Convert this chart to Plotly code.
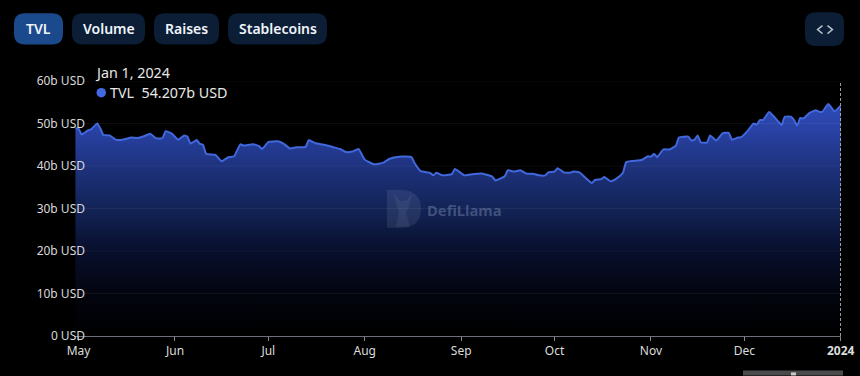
import plotly.graph_objects as go

dates = ["2023-04-30","2023-05-01","2023-05-02","2023-05-04","2023-05-05","2023-05-07","2023-05-08","2023-05-09","2023-05-11","2023-05-13","2023-05-15","2023-05-18","2023-05-20","2023-05-22","2023-05-24","2023-05-26","2023-05-28","2023-05-29","2023-05-31",
"2023-06-02","2023-06-04","2023-06-05","2023-06-06","2023-06-08","2023-06-09","2023-06-10","2023-06-11","2023-06-14","2023-06-16","2023-06-18","2023-06-20","2023-06-22","2023-06-23","2023-06-26","2023-06-28","2023-06-29",
"2023-07-01","2023-07-04","2023-07-06","2023-07-08","2023-07-10","2023-07-13","2023-07-14","2023-07-16","2023-07-19","2023-07-22","2023-07-24","2023-07-26","2023-07-28","2023-07-30",
"2023-08-01","2023-08-04","2023-08-07","2023-08-09","2023-08-12","2023-08-16","2023-08-17","2023-08-19","2023-08-22","2023-08-23","2023-08-24","2023-08-26","2023-08-29","2023-08-30",
"2023-09-02","2023-09-04","2023-09-08","2023-09-11","2023-09-12","2023-09-15","2023-09-16","2023-09-18","2023-09-20","2023-09-22","2023-09-24","2023-09-26","2023-09-28","2023-09-29",
"2023-10-01","2023-10-02","2023-10-04","2023-10-06","2023-10-07","2023-10-09","2023-10-11","2023-10-13","2023-10-14","2023-10-16","2023-10-17","2023-10-19","2023-10-21","2023-10-23","2023-10-24","2023-10-26","2023-10-29","2023-10-31",
"2023-11-01","2023-11-02","2023-11-03","2023-11-05","2023-11-07","2023-11-09","2023-11-10","2023-11-13","2023-11-14","2023-11-15","2023-11-16","2023-11-17","2023-11-19","2023-11-20","2023-11-22","2023-11-24","2023-11-26","2023-11-27","2023-11-29","2023-11-30",
"2023-12-02","2023-12-04","2023-12-05","2023-12-06","2023-12-07","2023-12-09","2023-12-12","2023-12-13","2023-12-14","2023-12-16","2023-12-17","2023-12-18","2023-12-19","2023-12-20","2023-12-22","2023-12-24","2023-12-25","2023-12-26","2023-12-28","2023-12-30","2024-01-01"]

tvl = [48.8,48.8,47.4,48.4,48.6,50.0,48.8,47.3,47.2,46.2,46.2,46.7,46.6,47.0,47.6,46.5,46.6,48.2,47.6,
46.2,47.2,46.9,45.3,46.1,45.2,45.0,42.9,42.6,41.1,42.0,42.3,45.1,44.8,45.1,44.7,44.0,
45.6,45.8,45.2,44.1,44.4,44.5,46.1,45.4,45.0,44.4,44.0,43.3,43.4,44.0,
41.5,40.4,40.8,41.7,42.2,42.1,40.7,38.8,38.4,37.8,38.4,37.8,38.1,39.3,
37.8,38.0,38.2,37.5,36.6,37.6,39.0,38.7,39.0,38.2,38.2,37.8,37.8,38.5,
38.7,39.5,38.5,38.4,38.7,38.5,37.2,36.0,36.7,36.9,37.4,36.4,37.1,38.4,40.9,41.2,41.4,42.3,
42.2,42.9,42.1,43.9,43.9,44.8,46.7,46.9,46.0,46.2,47.2,45.6,45.5,47.2,46.0,47.7,47.8,46.2,46.7,46.8,
48.2,50.0,49.7,50.8,50.8,52.7,50.4,49.6,51.6,51.6,50.8,49.5,51.3,51.2,52.5,53.1,52.8,52.7,54.6,52.9,54.207]

month_ticks = ["2023-05-01","2023-06-01","2023-07-01","2023-08-01","2023-09-01","2023-10-01","2023-11-01","2023-12-01","2024-01-01"]
month_labels = ["May","Jun","Jul","Aug","Sep","Oct","Nov","Dec","<b>2024</b>"]
y_ticks = [0,10,20,30,40,50,60]
y_labels = ["0 USD","10b USD","20b USD","30b USD","40b USD","50b USD","60b USD"]
buttons = ["TVL","Volume","Raises","Stablecoins"]

W, H = 860, 376
L, R, T, B = 74, 841, 81, 336.5
FONT = "Noto Sans, Segoe UI, sans-serif"

def px(x): return (x - L) / (R - L)
def py(y): return (B - y) / (B - T)

def rrect(x0, y0, x1, y1, r):
    pts = [("M", x0 + r, y0), ("L", x1 - r, y0), ("Q", x1, y0, x1, y0 + r), ("L", x1, y1 - r),
           ("Q", x1, y1, x1 - r, y1), ("L", x0 + r, y1), ("Q", x0, y1, x0, y1 - r), ("L", x0, y0 + r),
           ("Q", x0, y0, x0 + r, y0)]
    out = []
    for p in pts:
        c = p[0]
        vals = p[1:]
        coords = [f"{px(vals[i]):.5f},{py(vals[i+1]):.5f}" for i in range(0, len(vals), 2)]
        out.append(c + " " + " ".join(coords))
    return " ".join(out) + " Z"

def pshape(path, fill=None, line=None, width=0):
    return dict(type="path", xref="paper", yref="paper", path=path, fillcolor=fill or "rgba(0,0,0,0)",
                line=dict(color=line or "rgba(0,0,0,0)", width=width), layer="above")

def poly(points, close=False):
    s = " ".join(("M " if i == 0 else "L ") + f"{px(a):.5f},{py(b):.5f}" for i, (a, b) in enumerate(points))
    return s + (" Z" if close else "")

fig = go.Figure()
fig.add_trace(go.Scatter(
    x=dates, y=tvl, mode="lines", name="TVL",
    line=dict(color="#4168dc", width=2, shape="spline", smoothing=0.4),
    fill="tozeroy",
    fillgradient=dict(type="vertical",
                      colorscale=[[0, "#000000"], [0.18, "#03050f"], [0.36, "#080f2d"], [0.53, "#122355"],
                                  [0.71, "#1e327d"], [0.89, "#2a44aa"], [1, "#3050bb"]],
                      start=0, stop=56),
    fillcolor="rgba(0,0,0,0)",
    hoverinfo="skip", showlegend=False,
))

shapes = []
btn_boxes = [(14, 63), (72, 145), (154, 219), (228, 327)]
annotations = []
for i, (lab, (a, b)) in enumerate(zip(buttons, btn_boxes)):
    shapes.append(pshape(rrect(a, 13, b, 44.5, 11), fill="#1a4a8c" if i == 0 else "#0b1e36"))
    annotations.append(dict(text=lab, x=px((a + b) / 2), y=py(28.5), xref="paper", yref="paper", showarrow=False,
                            xanchor="center", yanchor="middle",
                            font=dict(family=FONT, size=14, color="#f0f4fa", weight=600)))
shapes.append(pshape(rrect(805, 12, 844, 46, 11), fill="#0b1e36"))
shapes.append(pshape(poly([(822.5, 25.5), (817.5, 29.5), (822.5, 33.5)]), line="#b9c2cc", width=1.4))
shapes.append(pshape(poly([(827.5, 25.5), (832.5, 29.5), (827.5, 33.5)]), line="#b9c2cc", width=1.4))

# grid over the fill
for v in y_ticks[1:]:
    shapes.append(dict(type="line", xref="paper", yref="y", x0=0, x1=1, y0=v, y1=v,
                       line=dict(color="rgba(255,255,255,0.05)", width=1), layer="above"))
# crosshair at the hovered date
shapes.append(dict(type="line", x0=month_ticks[-1], x1=month_ticks[-1], y0=0, y1=60, xref="x", yref="y",
                   line=dict(color="#c8c8c8", width=1, dash="3px,2px"), layer="above"))
# tooltip dot
shapes.append(dict(type="circle", xref="paper", yref="paper", x0=px(96.5), x1=px(106), y0=py(97.5), y1=py(88),
                   fillcolor="#4169e1", line=dict(width=0), layer="above"))
# zoom slider remnant
shapes.append(pshape(poly([(743, 371), (843, 371), (843, 376), (743, 376)], True), fill="#4a4a4d"))
shapes.append(pshape(poly([(791, 373), (796, 373), (796, 376), (791, 376)], True), fill="#c9c9c9"))
# watermark logo
shapes.append(pshape(
    f"M {px(387):.5f},{py(190):.5f} L {px(401):.5f},{py(190):.5f} "
    f"Q {px(421):.5f},{py(191):.5f} {px(421):.5f},{py(209):.5f} "
    f"Q {px(421):.5f},{py(228):.5f} {px(401):.5f},{py(228):.5f} L {px(387):.5f},{py(228):.5f} Z",
    fill="rgba(190,205,235,0.11)"))
shapes.append(pshape(poly([(394, 194), (400, 201), (406, 201), (412, 194), (409, 207), (406, 212), (410, 227),
                           (396, 227), (399, 212), (397, 207)], True), fill="rgba(190,205,235,0.08)"))

annotations += [
    dict(text="Jan 1, 2024", x=px(93), y=py(72), xref="paper", yref="paper", xanchor="left", yanchor="middle", showarrow=False,
         font=dict(family=FONT, size=14.3, color="#e8e8e8")),
    dict(text="TVL  54.207b USD", x=px(107.5), y=py(92.5), xref="paper", yref="paper", xanchor="left", yanchor="middle", showarrow=False,
         font=dict(family=FONT, size=14.3, color="#e8e8e8")),
    dict(text="DefiLlama", x=px(425), y=py(210), xref="paper", yref="paper", xanchor="left", yanchor="middle", showarrow=False,
         font=dict(family=FONT, size=14.8, color="rgba(170,185,220,0.33)", weight=700)),
]

fig.update_layout(
    width=W, height=H, paper_bgcolor="#000000", plot_bgcolor="#000000",
    margin=dict(l=L, r=W - R, t=T, b=H - B, pad=0, autoexpand=False),
    shapes=shapes, annotations=annotations, showlegend=False,
    font=dict(family=FONT, color="#d8d8d8", size=12),
    xaxis=dict(type="date", range=["2023-04-29 13:00", "2024-01-01 02:00"], tickmode="array",
               tickvals=month_ticks, ticktext=month_labels, ticks="outside", ticklen=4, tickcolor="#8a8a8a",
               showgrid=False, showline=True, linecolor="#6e7079", linewidth=1, zeroline=False, automargin=False,
               tickfont=dict(family=FONT, size=12, color="#dcdcdc")),
    yaxis=dict(range=[0, 60], tickmode="array", tickvals=y_ticks, ticktext=y_labels, ticks="",
               anchor="free", position=(85 - L) / (R - L), showline=False, zeroline=False, automargin=False,
               showgrid=False,
               ticklabelstandoff=0, tickfont=dict(family=FONT, size=12, color="#d8d8d8")),
)

fig.write_html("out.html", config=dict(displayModeBar=False),
               post_script="document.body.style.margin='0';document.body.style.overflow='hidden';document.body.style.background='#000';")
